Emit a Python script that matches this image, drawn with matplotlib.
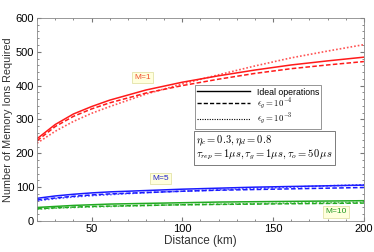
import numpy as np
import matplotlib
matplotlib.use('Agg')
import matplotlib.pyplot as plt
from matplotlib.ticker import MultipleLocator

dist = [20, 30, 40, 50, 60, 80, 100, 120, 140, 160, 180, 200]

# M=1
m1_ideal = [243, 285, 316, 338, 357, 387, 410, 429, 446, 461, 473, 484]
m1_e4 = [237, 279, 309, 331, 349, 378, 400, 419, 436, 450, 461, 471]
m1_e3 = [230, 265, 294, 318, 338, 375, 405, 432, 458, 482, 502, 521]
# M=5
m5_ideal = [67, 74, 79, 83, 86, 90, 94, 97, 100, 102, 104, 106]
m5_e4 = [62, 68, 73, 77, 80, 84, 88, 91, 93, 95, 97, 99]
m5_e3 = [60, 66, 71, 75, 78, 84, 88, 92, 96, 100, 104, 107]
# M=10
m10_ideal = [40, 43, 46, 48, 50, 52, 54, 56, 57, 58, 59, 60]
m10_e4 = [36, 39, 41, 43, 44, 46, 48, 49, 50, 51, 52, 53]
m10_e3 = [35, 38, 40, 42, 43, 46, 48, 50, 51, 53, 54, 55]

plt.rcParams['font.family'] = ['Liberation Sans', 'DejaVu Sans']
plt.rcParams['mathtext.fontset'] = 'cm'

fig = plt.figure(figsize=(3.74, 2.52), dpi=100)
ax = fig.add_axes([0.099, 0.123, 0.874, 0.806])

dot = (0, (1, 1.2))
for col, ys in [('#ff1a1a', (m1_ideal, m1_e4, m1_e3)),
                ('#1a1aff', (m5_ideal, m5_e4, m5_e3)),
                ('#22aa22', (m10_ideal, m10_e4, m10_e3))]:
    ax.plot(dist, ys[0], color=col, lw=1.1, ls='-')
    ax.plot(dist, ys[1], color=col, lw=1.1, ls=(0, (3, 1.5)))
    ax.plot(dist, ys[2], color=col, lw=1.2, ls=dot, alpha=0.75)

ax.set_xlim(20, 200)
ax.set_ylim(0, 600)
ax.xaxis.set_major_locator(MultipleLocator(50))
ax.xaxis.set_minor_locator(MultipleLocator(10))
ax.yaxis.set_major_locator(MultipleLocator(100))
ax.yaxis.set_minor_locator(MultipleLocator(20))
ax.tick_params(which='both', direction='in', top=True, right=True,
               labelsize=8, color='#777777', pad=2)
ax.tick_params(which='major', length=3)
ax.tick_params(which='minor', length=1.5)
for s in ax.spines.values():
    s.set_color('#888888')
    s.set_linewidth(0.6)
ax.set_xlabel('Distance (km)', fontsize=8.5, labelpad=1, color='#333333')
ax.set_ylabel('Number of Memory Ions Required', fontsize=7.8, labelpad=2, color='#333333')

box = dict(boxstyle='square,pad=0.25', fc='#ffffdd', ec='#dddd99', lw=0.5)
ax.text(78, 423, 'M=1', color='#f05030', fontsize=6, ha='center', va='center', bbox=box)
ax.text(88, 125, 'M=5', color='#2222cc', fontsize=6, ha='center', va='center', bbox=box)
ax.text(184.7, 26.6, 'M=10', color='#229922', fontsize=6, ha='center', va='center', bbox=box)

# legend
h1, = ax.plot([], [], color='black', lw=1.0, ls='-')
h2, = ax.plot([], [], color='black', lw=1.0, ls=(0, (3, 1.5)))
h3, = ax.plot([], [], color='black', lw=0.8, ls=dot)
leg = ax.legend([h1, h2, h3], ['Ideal operations', r'$\epsilon_g=10^{-4}$', r'$\epsilon_g=10^{-3}$'],
                loc='upper left', bbox_to_anchor=(0.483, 0.668), fontsize=6.3,
                frameon=True, fancybox=False, edgecolor='#666666', handlelength=6.0,
                handletextpad=0.8, borderpad=0.25, labelspacing=0.0,
                borderaxespad=0)
leg.get_frame().set_linewidth(0.6)

ax.text(0.486, 0.36, r'$\eta_c=0.3,\eta_d=0.8$' + '\n' +
        r'$\tau_{rep}=1\mu s,\tau_g=1\mu s,\tau_o=50\,\mu s$',
        transform=ax.transAxes, fontsize=7.6, va='center', ha='left',
        linespacing=1.05,
        bbox=dict(boxstyle='square,pad=0.22', fc='white', ec='#666666', lw=0.6))

fig.savefig('out.png', dpi=100)
